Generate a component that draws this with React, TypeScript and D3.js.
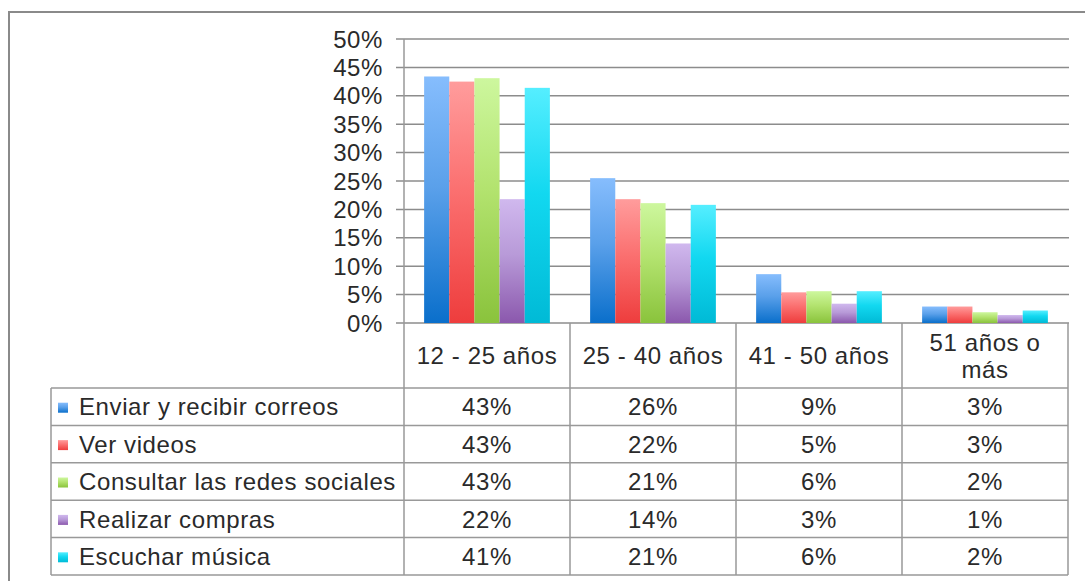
import React from 'react';
import * as d3 from 'd3';

// age groups (header lines in the data table)
const categories = ['12 - 25 años', '25 - 40 años', '41 - 50 años', '51 años o más'];
const categoryLines = [['12 - 25 años'], ['25 - 40 años'], ['41 - 50 años'], ['51 años o', 'más']];

const seriesNames = [
  'Enviar y recibir correos',
  'Ver videos',
  'Consultar las redes sociales',
  'Realizar compras',
  'Escuchar música',
];

// percentages per age group
const enviarCorreos = [43.4, 25.5, 8.6, 2.9];
const verVideos = [42.5, 21.8, 5.4, 2.9];
const redesSociales = [43.1, 21.1, 5.6, 1.9];
const realizarCompras = [21.8, 14.0, 3.4, 1.4];
const escucharMusica = [41.4, 20.8, 5.6, 2.2];

const seriesValues = [enviarCorreos, verVideos, redesSociales, realizarCompras, escucharMusica];

const yTicks = [0, 5, 10, 15, 20, 25, 30, 35, 40, 45, 50];

// gradient colours: [top, middle, bottom]
const seriesColors = [
  ['#86bdfd', '#5aa0ea', '#0a6fcb'],
  ['#ff9c9c', '#fb7070', '#ee3d3d'],
  ['#cdf79e', '#b3e36f', '#8ac33c'],
  ['#d0b8ee', '#b89ad8', '#8b58ad'],
  ['#55eeff', '#12d8f0', '#00bad6'],
];

const W = 1085, H = 581;
const plotLeft = 404, plotRight = 1068, plotTop = 39, plotBottom = 323;
const tableLeft = 51, headerBottom = 388, tableBottom = 575;
const font = '"Liberation Sans", Arial, sans-serif';
const textColor = '#2a2a2a';
const lineColor = '#999';

export default function App() {
  const x = d3.scaleBand<string>().domain(categories).range([plotLeft, plotRight]).paddingInner(0).paddingOuter(0);
  const xSub = d3.scaleBand<string>().domain(seriesNames).range([0, x.bandwidth()]).paddingInner(0).paddingOuter(0.8);
  const y = d3.scaleLinear().domain([0, 50]).range([plotBottom, plotTop]);
  const row = d3.scaleBand<string>().domain(seriesNames).range([headerBottom, tableBottom]);

  return (
    <svg width={W} height={H} style={{ position: 'absolute', left: 0, top: 0, background: '#fff' }}
      fontFamily={font}>
      <defs>
        {seriesColors.map((c, i) => (
          <linearGradient key={i} id={`grad${i}`} x1="0" y1="0" x2="0" y2="1">
            <stop offset="0" stopColor={c[0]} />
            <stop offset="0.45" stopColor={c[1]} />
            <stop offset="1" stopColor={c[2]} />
          </linearGradient>
        ))}
      </defs>
      <rect x={9} y={12} width={W + 20} height={H + 20} fill="#fff" stroke="#8a8a8a" strokeWidth={2} />

      {/* gridlines + y axis labels */}
      {yTicks.map(t => (
        <g key={t}>
          <line x1={396} x2={plotRight + 1} y1={y(t)} y2={y(t)} stroke="#8c8c8c" strokeWidth={1.5} />
          <text x={383} y={y(t)} dy="0.36em" textAnchor="end" fontSize={24} letterSpacing={0.6} fill={textColor}>
            {t}%
          </text>
        </g>
      ))}
      <line x1={plotLeft} x2={plotLeft} y1={plotTop} y2={tableBottom} stroke={lineColor} strokeWidth={1.5} />

      {/* bars */}
      {seriesValues.map((vals, si) => (
        <g key={si} fill={`url(#grad${si})`}>
          {vals.map((v, ci) => (
            <rect key={ci}
              x={(x(categories[ci]) as number) + (xSub(seriesNames[si]) as number)}
              y={y(v)}
              width={xSub.bandwidth()}
              height={y(0) - y(v)} />
          ))}
        </g>
      ))}

      {/* data table */}
      {categories.map((c, ci) => (
        <line key={c} x1={(x(c) as number) + x.bandwidth()} x2={(x(c) as number) + x.bandwidth()}
          y1={plotBottom} y2={tableBottom} stroke={lineColor} strokeWidth={1.5} />
      ))}
      <line x1={tableLeft} x2={tableLeft} y1={headerBottom} y2={tableBottom} stroke={lineColor} strokeWidth={1.5} />
      {seriesNames.map(s => (
        <line key={s} x1={tableLeft} x2={plotRight} y1={row(s)} y2={row(s)} stroke={lineColor} strokeWidth={1.5} />
      ))}
      <line x1={tableLeft} x2={plotRight} y1={tableBottom} y2={tableBottom} stroke={lineColor} strokeWidth={1.5} />

      {categories.map((c, ci) => {
        const lines = categoryLines[ci];
        const cx = (x(c) as number) + x.bandwidth() / 2;
        const mid = (plotBottom + headerBottom) / 2;
        return (
          <text key={c} x={cx} textAnchor="middle" fontSize={24} letterSpacing={0.6} fill={textColor}>
            {lines.map((l, li) => (
              <tspan key={li} x={cx} y={mid + (li - (lines.length - 1) / 2) * 27} dy="0.36em">{l}</tspan>
            ))}
          </text>
        );
      })}

      {seriesNames.map((s, si) => {
        const cy = (row(s) as number) + row.bandwidth() / 2;
        return (
          <g key={s}>
            <rect x={58} y={cy - 4} width={10} height={10} fill={`url(#grad${si})`} />
            <text x={79} y={cy} dy="0.36em" fontSize={24} letterSpacing={0.6} fill={textColor}>{s}</text>
            {seriesValues[si].map((v, ci) => (
              <text key={ci} x={(x(categories[ci]) as number) + x.bandwidth() / 2} y={cy} dy="0.36em"
                textAnchor="middle" fontSize={24} letterSpacing={0.6} fill={textColor}>
                {Math.round(v)}%
              </text>
            ))}
          </g>
        );
      })}
    </svg>
  );
}
